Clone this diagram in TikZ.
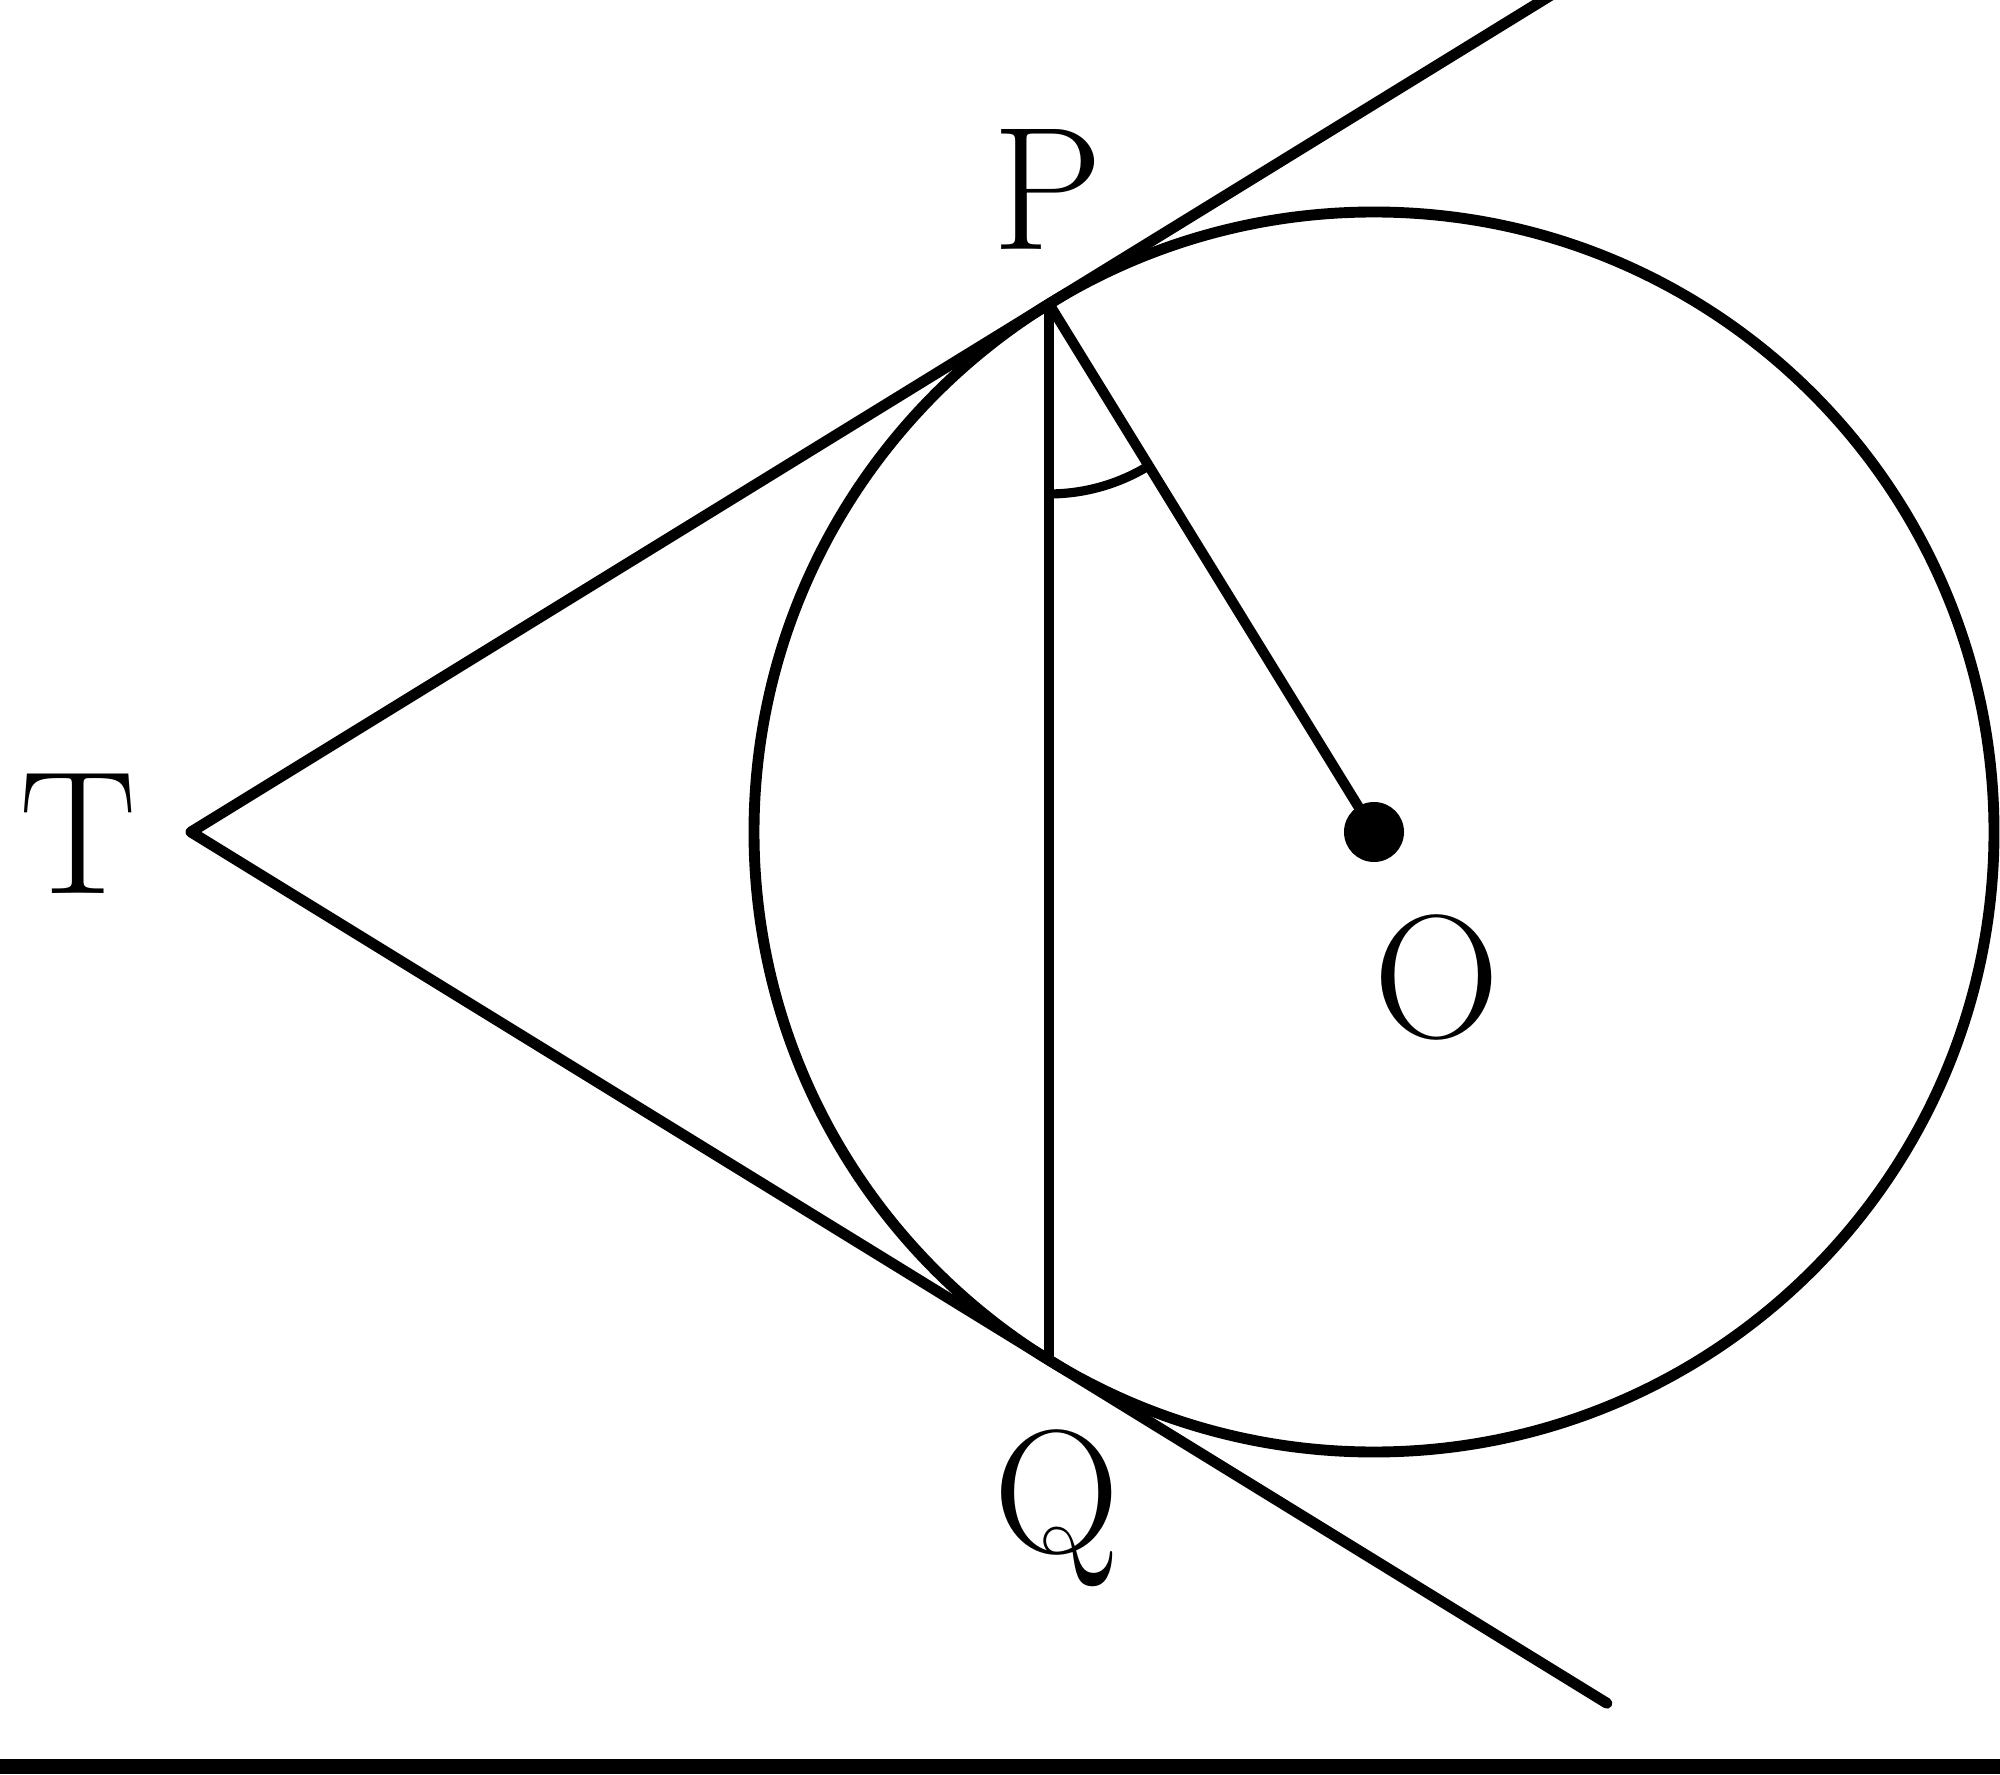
\documentclass[tikz,border=0pt]{standalone}
\usepackage{tikz}
\usetikzlibrary{calc}
\tikzstyle{every node}=[font=\fontsize{50}{60}\selectfont,inner sep=0pt,anchor=base]

\begin{document}
\begin{tikzpicture}[line cap=round,line join=round,x=1.0cm,y=1.0cm]
                    \useasboundingbox (0,0) rectangle (20,17.74);
                    \fill [black] (0,0) rectangle (20,0.15);
                    \clip (0,0.15) rectangle (20,17.74);
                    \coordinate (O) at (13.74,9.42);
                    \coordinate (T) at (1.91,9.42);
                    \coordinate (P) at ($(O)+(121.6:6.2)$);
                    \coordinate (Q) at ($(O)+(238.4:6.2)$);
                    \coordinate (U) at ($(T)!1.6!(P)$);
                    \coordinate (V) at ($(T)!1.65!(Q)$);
                    \draw [line width=3.1pt] (O) circle (6.2cm);
                    \draw [line width=3.1pt] (T) -- (U);
                    \draw [line width=3.1pt] (T) -- (V);
                    \draw [line width=2.9pt] (P) -- (Q);
                    \draw [line width=2.9pt] (P) -- (O);
                    \draw [line width=2.6pt] ($(P)+(-90:1.9)$) arc (-90:-58.4:1.9);
                    \fill [black] (O) circle (0.3cm);
                    \node (labP) at (10.48,15.24) {P};
                    \node (labT) at (0.78,8.81) {T};
                    \node (labO) at (14.37,7.37) {O};
                    \node (labQ) at (10.57,2.22) {Q};
                    \end{tikzpicture}
\end{document}
